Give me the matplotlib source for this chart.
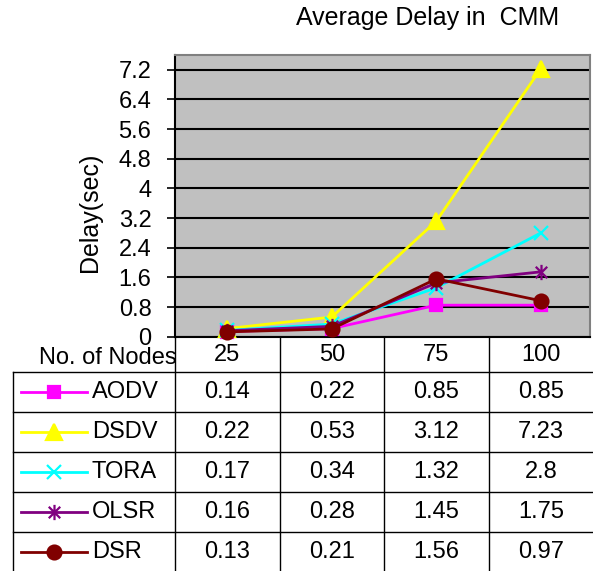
import numpy as np
import matplotlib.pyplot as plt
from matplotlib.path import Path

nodes = ['25', '50', '75', '100']
protocols = ['AODV', 'DSDV', 'TORA', 'OLSR', 'DSR']
aodv = [0.14, 0.22, 0.85, 0.85]
dsdv = [0.22, 0.53, 3.12, 7.23]
tora = [0.17, 0.34, 1.32, 2.8]
olsr = [0.16, 0.28, 1.45, 1.75]
dsr = [0.13, 0.21, 1.56, 0.97]
yticks = [0, 0.8, 1.6, 2.4, 3.2, 4, 4.8, 5.6, 6.4, 7.2]

plt.rcParams['font.family'] = ['Liberation Sans', 'DejaVu Sans']
fs = 17

# excel style asterisk: x plus a vertical bar
asterisk = Path([(0, -1), (0, 1), (-.75, -.75), (.75, .75), (-.75, .75), (.75, -.75)],
                [Path.MOVETO, Path.LINETO] * 3)

series = [aodv, dsdv, tora, olsr, dsr]
styles = [('#ff00ff', 's', 9),
          ('#ffff00', '^', 11),
          ('#00ffff', 'x', 10),
          ('#800080', asterisk, 11),
          ('#800000', 'o', 10)]

W, H = 593, 571
fig = plt.figure(figsize=(W / 100, H / 100), dpi=100)

top, bottom, left, right = 55, 336.7, 175, 590
ax = fig.add_axes([left / W, 1 - bottom / H, (right - left) / W, (bottom - top) / H])
ax.set_facecolor('#c0c0c0')

x = np.arange(len(nodes))
for vals, (c, m, ms) in zip(series, styles):
    ax.plot(x, vals, color=c, lw=2, marker=m, ms=ms, mfc=c, mec=c, mew=1.6,
            clip_on=False, zorder=3)

ax.set_xlim(-0.5, 3.47)
ax.set_ylim(0, 7.6)
ax.set_xticks([])
ax.set_yticks(yticks)
ax.set_yticklabels([f'{v:g}' for v in yticks])
ax.tick_params(axis='y', length=6, width=1.2, pad=11, labelsize=fs)
ax.grid(axis='y', color='black', lw=1.5)
ax.set_axisbelow(True)
for s in ['left', 'bottom']:
    ax.spines[s].set_color('black')
    ax.spines[s].set_linewidth(1.5)
for s in ['top', 'right']:
    ax.spines[s].set_color('#808080')
    ax.spines[s].set_linewidth(1.5)

ax.set_ylabel('Delay(sec)', fontsize=18)
ax.yaxis.set_label_coords(-0.176, 0.443)

fig.text(428 / W, 1 - 18 / H, 'Average Delay in  CMM', fontsize=18, ha='center', va='center')

# data table below the plot, drawn in pixel coords
tab = fig.add_axes([0, 0, 1, 1])
tab.set_xlim(0, W)
tab.set_ylim(H, 0)
tab.axis('off')
tab.patch.set_alpha(0)

edges = [ax.transData.transform((i - 0.5, 0))[0] for i in range(len(nodes))]
centers = [ax.transData.transform((i, 0))[0] for i in range(len(nodes))]
row_top, row_h = 372.3, 40
row_lines = [row_top + row_h * i for i in range(len(protocols) + 1)]

for e in edges:
    tab.plot([e, e], [bottom, row_lines[-1]], color='black', lw=1)
tab.plot([13, 13], [row_top, row_lines[-1]], color='black', lw=1)
for y in row_lines:
    tab.plot([13, W], [y, y], color='black', lw=1)

tab.text(177, 358, 'No. of Nodes', fontsize=fs, ha='right', va='center')
for cx, n in zip(centers, nodes):
    tab.text(cx, 355, n, fontsize=fs, ha='center', va='center')

for i, (name, vals, (c, m, ms)) in enumerate(zip(protocols, series, styles)):
    yc = row_top + row_h * (i + 0.5)
    tab.plot([21, 54, 87], [yc] * 3, color=c, lw=2, marker=m, ms=ms, mfc=c, mec=c,
             mew=1.6, markevery=[1])
    tab.text(92, yc, name, fontsize=fs, ha='left', va='center')
    for cx, v in zip(centers, vals):
        tab.text(cx, yc, f'{v:g}', fontsize=fs, ha='center', va='center')

fig.savefig('out.png', dpi=100)
